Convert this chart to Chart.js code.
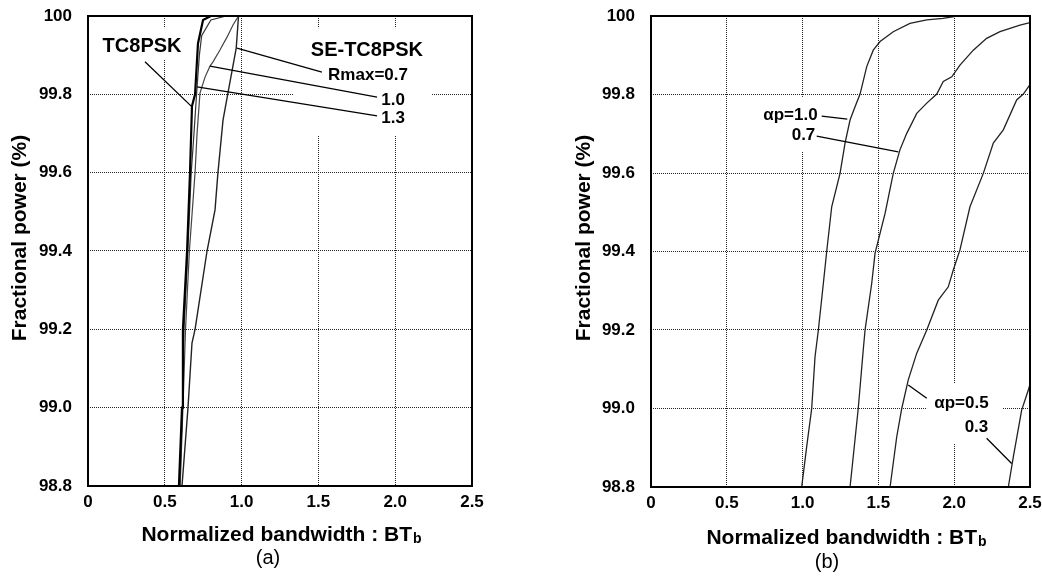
<!DOCTYPE html>
<html>
<head>
<meta charset="utf-8">
<title>Fractional power vs normalized bandwidth</title>
<script src="https://cdn.jsdelivr.net/npm/chart.js@4"></script>
<style>
  html, body { margin: 0; padding: 0; background: #fff; overflow: hidden; }
  body { width: 1042px; height: 578px; position: relative; }
  .panel { position: absolute; top: 0; height: 578px; }
  #pa { left: 0; width: 520px; }
  #pb { left: 540px; width: 520px; }
</style>
</head>
<body>
<div class="panel" id="pa"><canvas id="chartA"></canvas></div>
<div class="panel" id="pb"><canvas id="chartB"></canvas></div>
<script>
// axis ticks shared by both panels
const xTickVals   = [0, 0.5, 1.0, 1.5, 2.0, 2.5];
const xTickLabels = ['0', '0.5', '1.0', '1.5', '2.0', '2.5'];
const yTickVals   = [98.8, 99.0, 99.2, 99.4, 99.6, 99.8, 100];
const yTickLabels = ['98.8', '99.0', '99.2', '99.4', '99.6', '99.8', '100'];

// (a) TC8PSK and SE-TC8PSK (Rmax = 0.7 / 1.0 / 1.3): BTb vs fractional power
const tcX  = [0.592, 0.612, 0.618, 0.645, 0.664, 0.677, 0.697, 0.716, 0.749, 0.80];
const tcY  = [98.8, 99.0, 99.2, 99.4, 99.6, 99.77, 99.8, 99.93, 99.99, 100];
const r13X = [0.598, 0.615, 0.625, 0.65, 0.672, 0.69, 0.71, 0.725, 0.74, 0.80, 0.90];
const r13Y = [98.8, 99.0, 99.2, 99.4, 99.6, 99.7, 99.819, 99.9, 99.95, 99.99, 100];
const r10X = [0.600, 0.618, 0.635, 0.66, 0.697, 0.71, 0.729, 0.762, 0.794, 0.814, 0.859, 0.905, 0.944, 0.98];
const r10Y = [98.8, 99.0, 99.2, 99.4, 99.6, 99.7, 99.803, 99.844, 99.872, 99.883, 99.913, 99.946, 99.977, 100];
const r07X = [0.612, 0.651, 0.677, 0.697, 0.775, 0.827, 0.846, 0.879, 0.911, 0.965, 0.98];
const r07Y = [98.8, 99.0, 99.165, 99.2, 99.4, 99.505, 99.6, 99.734, 99.803, 99.918, 100];

// (b) roll-off αp = 1.0 / 0.7 / 0.5 / 0.3
const a10X = [0.994, 1.027, 1.060, 1.082, 1.104, 1.137, 1.159, 1.192, 1.247, 1.280, 1.313, 1.346, 1.379, 1.423, 1.466, 1.511, 1.598, 1.708, 1.819, 1.926, 2.02];
const a10Y = [98.8, 98.903, 99.0, 99.132, 99.2, 99.319, 99.4, 99.514, 99.599, 99.676, 99.735, 99.769, 99.801, 99.871, 99.913, 99.935, 99.96, 99.981, 99.99, 99.994, 100];
const a07X = [1.313, 1.334, 1.367, 1.400, 1.412, 1.456, 1.478, 1.544, 1.598, 1.642, 1.687, 1.753, 1.819, 1.885, 1.928, 1.984, 2.038, 2.126, 2.214, 2.302, 2.434, 2.522];
const a07Y = [98.8, 98.877, 99.0, 99.149, 99.2, 99.319, 99.396, 99.497, 99.599, 99.659, 99.701, 99.752, 99.778, 99.801, 99.833, 99.845, 99.875, 99.913, 99.943, 99.96, 99.977, 99.985];
const a05X = [1.577, 1.621, 1.654, 1.697, 1.753, 1.819, 1.895, 1.961, 1.994, 2.038, 2.104, 2.192, 2.258, 2.324, 2.412, 2.456, 2.522];
const a05Y = [98.8, 98.928, 99.0, 99.073, 99.141, 99.2, 99.276, 99.31, 99.353, 99.404, 99.514, 99.599, 99.676, 99.71, 99.786, 99.801, 99.837];
const a03X = [2.357, 2.390, 2.445, 2.489, 2.52];
const a03Y = [98.8, 98.877, 98.996, 99.047, 99.09];

const fontFam = '"Liberation Sans", Arial, Helvetica, sans-serif';
const pts = (xs, ys) => xs.map((x, i) => ({ x, y: ys[i] }));
const curve = (xs, ys, width, color) => ({
    data: pts(xs, ys), showLine: true, fill: false, tension: 0,
    borderColor: color, borderWidth: width, pointRadius: 0
});

// masks (white boxes behind callouts), leader lines, callout text, axis titles
const decor = {
    id: 'decor',
    beforeDatasetsDraw(chart, args, o) {
        const { ctx, scales: { x, y } } = chart;
        ctx.save();
        ctx.fillStyle = '#fff';
        o.masks.forEach(([x1, x2, y1, y2]) => {
            const l = x.getPixelForValue(x1), r = x.getPixelForValue(x2);
            const t = y.getPixelForValue(y1), b = y.getPixelForValue(y2);
            ctx.fillRect(l, t, r - l, b - t);
        });
        ctx.restore();
    },
    afterDraw(chart, args, o) {
        const { ctx, chartArea: a, scales: { x, y } } = chart;
        ctx.save();
        ctx.strokeStyle = '#000';
        ctx.lineWidth = 2;
        ctx.strokeRect(a.left, a.top, a.right - a.left, a.bottom - a.top);

        ctx.lineWidth = 1.3;
        o.leaders.forEach(([x1, y1, x2, y2]) => {
            ctx.beginPath();
            ctx.moveTo(x.getPixelForValue(x1), y.getPixelForValue(y1));
            ctx.lineTo(x.getPixelForValue(x2), y.getPixelForValue(y2));
            ctx.stroke();
        });

        ctx.fillStyle = '#000';
        ctx.textAlign = 'center';
        ctx.textBaseline = 'middle';
        o.labels.forEach(l => {
            ctx.font = `bold ${l.size}px ${fontFam}`;
            ctx.fillText(l.text, x.getPixelForValue(l.x), y.getPixelForValue(l.y));
        });

        // y title
        ctx.save();
        ctx.translate(o.yTitle[0], o.yTitle[1]);
        ctx.rotate(-Math.PI / 2);
        ctx.font = `bold 21px ${fontFam}`;
        ctx.fillText('Fractional power (%)', 0, 0);
        ctx.restore();

        // x title: "BT" with subscript b
        ctx.textAlign = 'left';
        ctx.textBaseline = 'alphabetic';
        const main = 'Normalized bandwidth : BT';
        ctx.font = `bold 21px ${fontFam}`;
        const w1 = ctx.measureText(main).width;
        ctx.font = `bold 14px ${fontFam}`;
        const w2 = ctx.measureText('b').width;
        const x0 = o.xTitle[0] - (w1 + w2) / 2;
        const base = o.xTitle[1] + 8;
        ctx.font = `bold 21px ${fontFam}`;
        ctx.fillText(main, x0, base);
        ctx.font = `bold 14px ${fontFam}`;
        ctx.fillText('b', x0 + w1 + 1, base + 2);

        ctx.textAlign = 'center';
        ctx.textBaseline = 'middle';
        ctx.font = `20px ${fontFam}`;
        ctx.fillText(o.caption[0], o.caption[1], o.caption[2]);
        ctx.restore();
    }
};

const tickFont = { family: fontFam, size: 17, weight: 'bold' };

const makeOptions = (area, deco) => ({
    responsive: true,
    maintainAspectRatio: false,
    animation: false,
    events: [],
    layout: { padding: { left: 0, top: area.top, right: area.right, bottom: 0 } },
    plugins: { legend: { display: false }, tooltip: { enabled: false }, decor: deco },
    scales: {
        x: {
            type: 'linear', min: 0, max: 2.5,
            afterBuildTicks: s => { s.ticks = xTickVals.map(v => ({ value: v })); },
            afterFit: s => { s.height = area.xh; },
            ticks: { callback: (v, i) => xTickLabels[i], font: tickFont, color: '#000', padding: 6, maxRotation: 0, autoSkip: false },
            grid: { color: '#222', lineWidth: 1, drawTicks: false },
            border: { display: false, dash: [1, 1] }
        },
        y: {
            type: 'linear', min: 98.8, max: 100,
            afterBuildTicks: s => { s.ticks = yTickVals.map(v => ({ value: v })); },
            afterFit: s => { s.width = area.yw; },
            ticks: { callback: (v, i) => yTickLabels[i], font: tickFont, color: '#000', padding: 3, autoSkip: false },
            grid: { color: '#222', lineWidth: 1, drawTicks: true, tickLength: 13, tickColor: 'rgba(0,0,0,0)' },
            border: { display: false, dash: [1, 1] }
        }
    }
});

new Chart(document.getElementById('chartA'), {
    type: 'scatter',
    data: {
        datasets: [
            curve(tcX, tcY, 2.2, '#000'),
            curve(r13X, r13Y, 1.2, '#333'),
            curve(r10X, r10Y, 1.2, '#444'),
            curve(r07X, r07Y, 1.4, '#222')
        ]
    },
    options: makeOptions({ top: 16, right: 48, yw: 88, xh: 92 }, {
        masks: [[0.078, 0.638, 99.969, 99.888], [1.335, 2.24, 99.969, 99.696]],
        leaders: [
            [0.371, 99.883, 0.677, 99.768],
            [1.523, 99.857, 0.970, 99.918],
            [1.882, 99.793, 0.794, 99.872],
            [1.882, 99.745, 0.710, 99.819]
        ],
        labels: [
            { text: 'TC8PSK', x: 0.352, y: 99.921, size: 20 },
            { text: 'SE-TC8PSK', x: 1.816, y: 99.913, size: 20 },
            { text: 'Rmax=0.7', x: 1.823, y: 99.849, size: 17 },
            { text: '1.0', x: 1.986, y: 99.786, size: 17 },
            { text: '1.3', x: 1.986, y: 99.740, size: 17 }
        ],
        yTitle: [20, 238],
        xTitle: [281, 533],
        caption: ['(a)', 268, 558]
    }),
    plugins: [decor]
});

new Chart(document.getElementById('chartB'), {
    type: 'scatter',
    data: {
        datasets: [
            curve(a10X, a10Y, 1.3, '#222'),
            curve(a07X, a07Y, 1.3, '#222'),
            curve(a05X, a05Y, 1.3, '#222'),
            curve(a03X, a03Y, 1.3, '#222')
        ]
    },
    options: makeOptions({ top: 16, right: 30, yw: 111, xh: 91 }, {
        masks: [[0.719, 1.121, 99.794, 99.654], [1.821, 2.315, 99.065, 98.912]],
        leaders: [
            [1.126, 99.745, 1.295, 99.737],
            [1.093, 99.694, 1.631, 99.654],
            [1.819, 99.026, 1.697, 99.060],
            [2.214, 98.924, 2.379, 98.860]
        ],
        labels: [
            { text: 'αp=1.0', x: 0.920, y: 99.748, size: 17 },
            { text: '0.7', x: 1.006, y: 99.697, size: 17 },
            { text: 'αp=0.5', x: 2.048, y: 99.014, size: 17 },
            { text: '0.3', x: 2.147, y: 98.953, size: 17 }
        ],
        yTitle: [44, 238],
        xTitle: [306, 536],
        caption: ['(b)', 287, 562]
    }),
    plugins: [decor]
});
</script>
</body>
</html>
